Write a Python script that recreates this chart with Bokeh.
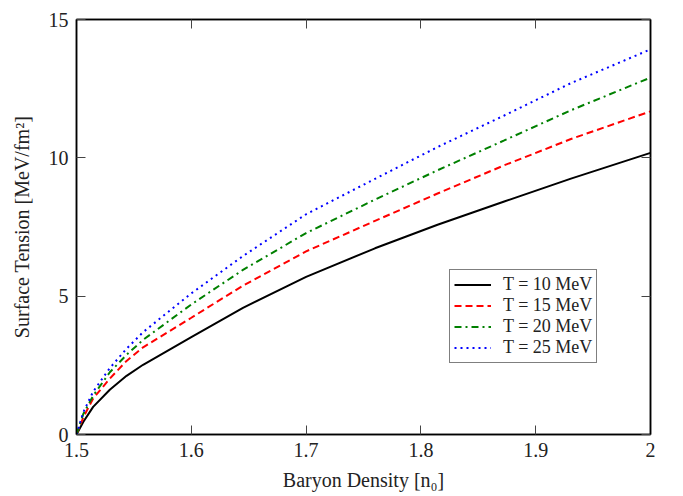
from bokeh.plotting import figure
from bokeh.models import LinearAxis, Legend, LegendItem, FixedTicker, Range1d
from bokeh.embed import file_html
from bokeh.resources import INLINE

# Data
density = [1.5, 1.506, 1.5145, 1.529, 1.5436, 1.558, 1.6, 1.645, 1.7, 1.76, 1.8145, 1.8726, 1.9307, 2.0]
t10 = [0.0, 0.46, 1.00, 1.62, 2.12, 2.52, 3.52, 4.58, 5.70, 6.73, 7.58, 8.42, 9.25, 10.18]
t15 = [0.0, 0.63, 1.30, 2.02, 2.66, 3.15, 4.22, 5.38, 6.62, 7.72, 8.71, 9.73, 10.68, 11.68]
t20 = [0.0, 0.75, 1.40, 2.25, 2.88, 3.42, 4.70, 5.95, 7.28, 8.49, 9.55, 10.63, 11.72, 12.90]
t25 = [0.0, 0.81, 1.55, 2.40, 3.10, 3.70, 5.10, 6.45, 7.96, 9.24, 10.39, 11.53, 12.70, 13.92]
labels = ["T = 10 MeV", "T = 15 MeV", "T = 20 MeV", "T = 25 MeV"]
x_ticks = [1.5, 1.6, 1.7, 1.8, 1.9, 2.0]
x_tick_labels = ["1.5", "1.6", "1.7", "1.8", "1.9", "2"]
y_ticks = [0, 5, 10, 15]

FONT = "Liberation Serif"

p = figure(width=683, height=496, output_backend="svg", toolbar_location=None,
           x_range=Range1d(1.5, 2.0), y_range=Range1d(0, 15),
           min_border_left=76, min_border_right=33, min_border_top=19, min_border_bottom=62,
           x_axis_label="Baryon Density [n\u2080]", y_axis_label="Surface Tension [MeV/fm\u00b2]")
p.xgrid.visible = False
p.ygrid.visible = False
p.outline_line_color = "black"
p.outline_line_width = 1.5

styles = [
    dict(color="black", line_dash="solid"),
    dict(color="red", line_dash="7 4"),
    dict(color="green", line_dash="7 4 2 4"),
    dict(color="blue", line_dash="2 4"),
]
series = [t10, t15, t20, t25]
renderers = []
for ys, st in zip(series, styles):
    r = p.line(density, ys, line_color=st["color"], line_dash=st["line_dash"], line_width=2)
    renderers.append(r)

def style_axis(ax, ticks, labels_on=True):
    ax.ticker = FixedTicker(ticks=ticks)
    ax.major_tick_in = 9
    ax.major_tick_out = 0
    ax.minor_tick_in = 0
    ax.minor_tick_out = 0
    ax.axis_line_color = "black"
    ax.axis_line_width = 1.5
    ax.major_tick_line_width = 1
    ax.major_tick_line_color = "#444444"
    ax.major_label_text_font = FONT
    ax.major_label_text_font_size = "20px"
    ax.major_label_text_color = "#222222"
    ax.axis_label_text_font = FONT
    ax.axis_label_text_font_size = "20px"
    ax.axis_label_text_font_style = "normal"
    ax.axis_label_text_color = "#222222"
    if not labels_on:
        ax.major_label_overrides = {t: "" for t in ticks}

style_axis(p.xaxis[0], x_ticks)
p.xaxis[0].major_label_overrides = dict(zip(x_ticks, x_tick_labels))
p.xaxis[0].major_label_standoff = 8
p.xaxis[0].axis_label_standoff = 9
style_axis(p.yaxis[0], y_ticks)
p.yaxis[0].major_label_standoff = 8
p.yaxis[0].axis_label_standoff = 13

top = LinearAxis()
style_axis(top, x_ticks, False)
p.add_layout(top, "above")
right = LinearAxis()
style_axis(right, y_ticks, False)
p.add_layout(right, "right")

legend = Legend(items=[LegendItem(label=l, renderers=[r]) for l, r in zip(labels, renderers)],
                location=(373, 71))
legend.border_line_color = "black"
legend.border_line_width = 1
legend.label_text_font = FONT
legend.label_text_font_size = "18px"
legend.label_text_color = "#222222"
legend.glyph_width = 37
legend.glyph_height = 19
legend.label_height = 19
legend.spacing = 0
legend.padding = 4
legend.margin = 0
legend.label_standoff = 12
legend.background_fill_alpha = 1
p.add_layout(legend, "center")

open("out.html", "w").write(file_html(p, INLINE))
